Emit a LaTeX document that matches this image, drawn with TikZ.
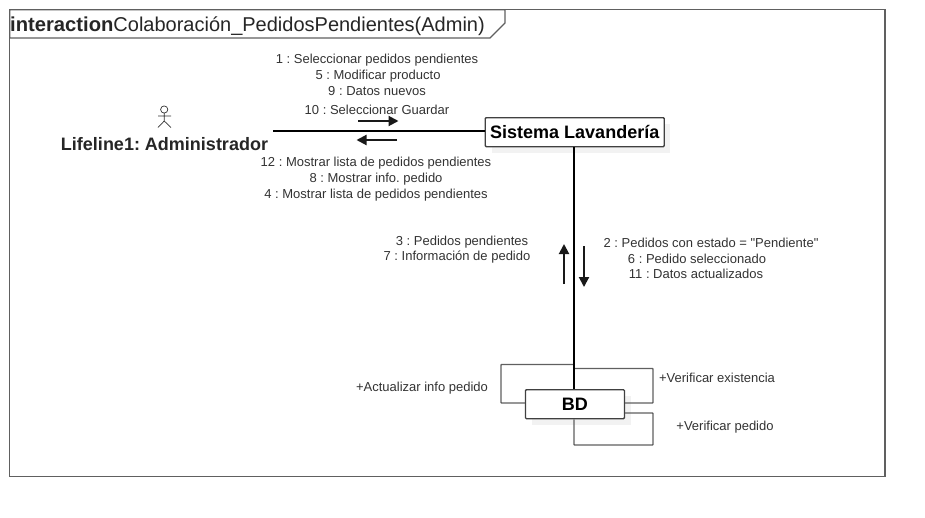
\documentclass[tikz,border=0pt]{standalone}
\usepackage{fontspec}
\setmainfont{Liberation Sans}[Ligatures=TeXOff]
\usetikzlibrary{arrows.meta}
\definecolor{framegray}{HTML}{606060}
\definecolor{txtgray}{HTML}{333333}
\definecolor{shadowgray}{HTML}{F2F2F2}
\tikzset{
  lbl/.style={inner sep=0pt,font=\fontsize{13}{15}\selectfont,text=txtgray,align=center,yshift=-0.7pt},
  objbox/.style={draw=black!75,line width=1.3pt,fill=white,rounded corners=1pt,inner sep=0pt,text depth=0pt,font=\fontsize{18}{21}\bfseries\selectfont},
  shadowbox/.style={fill=shadowgray,draw=none,inner sep=0pt},
  link/.style={draw=black,line width=2.2pt},
  loopline/.style={draw=framegray,line width=1.4pt,rounded corners=0.6pt},
  msg/.style={draw=black!90,line width=2pt,-{Triangle[length=10pt,width=10pt]}},
  framel/.style={draw=framegray,line width=1.2pt}
}
\begin{document}
\frenchspacing
\begin{tikzpicture}[x=1pt,y=-1pt]
\useasboundingbox (0,0) rectangle (925,517);
\fill[white] (0,0) rectangle (925,517);
% frame
\draw[framel] (9.8,9.8) rectangle (885,476.8);
\draw[framel,fill=white] (9.8,9.8) -- (505,9.8) -- (505,23) -- (490,38) -- (9.8,38) -- cycle;
\node[anchor=west,inner sep=0pt,font=\fontsize{20.2}{24}\selectfont,text=black!85] (title) at (10,26) {\textbf{interaction}\fontsize{20}{24}\selectfont Colaboración\_PedidosPendientes(Admin)};
% actor
\coordinate (head) at (164.2,109.5);
\draw[black!80,line width=0.7pt] (head) circle (3.6);
\draw[black!80,line width=0.7pt] (164.2,113) -- (164.2,121) (158,116) -- (171,116) (158,127.5) -- (164.2,121) -- (171,127.5);
\node[inner sep=0pt,font=\fontsize{18}{21}\bfseries\selectfont,text=black!85] (admin) at (164.5,143.7) {Lifeline1: Administrador};
\coordinate (linkstart) at (273,131);
% shadows
\node[shadowbox,minimum width=178pt,minimum height=29pt,anchor=north west] (sisShadow) at (492,124) {};
\node[shadowbox,minimum width=99pt,minimum height=29pt,anchor=north west] (bdShadow) at (532,396) {};
% self loops
\coordinate (a1) at (574,364.5);
\coordinate (a2) at (574,368.5);
\coordinate (a3) at (574,445);
% boxes
\node[objbox,minimum width=179pt,minimum height=29pt,anchor=north west] (sis) at (484.6,117) {Sistema Lavandería};
\node[objbox,minimum width=99pt,minimum height=29pt,anchor=north west] (bd) at (524.8,389) {BD};
\draw[loopline] (bd.west |- 0,403) -- (501,403) -- (501,364.5) -- (a1);
\draw[loopline] (a2) -- (653,368.5) -- (653,403) -- (bd.east |- 0,403);
\draw[loopline] (bd.east |- 0,413) -- (653,413) -- (653,445) -- (a3) -- (bd.south -| a3);
% links
\draw[link] (linkstart) -- (sis.west |- linkstart);
\draw[link] (sis.south -| 574,0) -- (bd.north -| 574,0);
% messages
\coordinate (m1s) at (358,121); \coordinate (m1e) at (398.5,121);
\coordinate (m2s) at (397,140); \coordinate (m2e) at (356.5,140);
\coordinate (m3s) at (564,284); \coordinate (m3e) at (564,244);
\coordinate (m4s) at (584,246); \coordinate (m4e) at (584,287);
\draw[msg] (m1s) -- (m1e);
\draw[msg] (m2s) -- (m2e);
\draw[msg] (m3s) -- (m3e);
\draw[msg] (m4s) -- (m4e);
% labels
\node[lbl] (l1) at (377,59) {1 : Seleccionar pedidos pendientes};
\node[lbl] (l5) at (378,75) {5 : Modificar producto};
\node[lbl] (l9) at (377,90.4) {9 : Datos nuevos};
\node[lbl] (l10) at (377,109.4) {10 : Seleccionar Guardar};
\node[lbl] (l12) at (376,162) {12 : Mostrar lista de pedidos pendientes};
\node[lbl] (l8) at (376,178) {8 : Mostrar info. pedido};
\node[lbl] (l4) at (376,194) {4 : Mostrar lista de pedidos pendientes};
\node[lbl] (l3) at (462,241) {3 : Pedidos pendientes};
\node[lbl] (l7) at (457,256) {7 : Información de pedido};
\node[lbl] (l2) at (711,242.4) {2 : Pedidos con estado = "Pendiente"};
\node[lbl] (l6) at (697,258.4) {6 : Pedido seleccionado};
\node[lbl] (l11) at (696,273.4) {11 : Datos actualizados};
\node[lbl] (v1) at (422,387) {+Actualizar info pedido};
\node[lbl] (v2) at (717,377.4) {+Verificar existencia};
\node[lbl] (v3) at (725,426) {+Verificar pedido};
\end{tikzpicture}
\end{document}
